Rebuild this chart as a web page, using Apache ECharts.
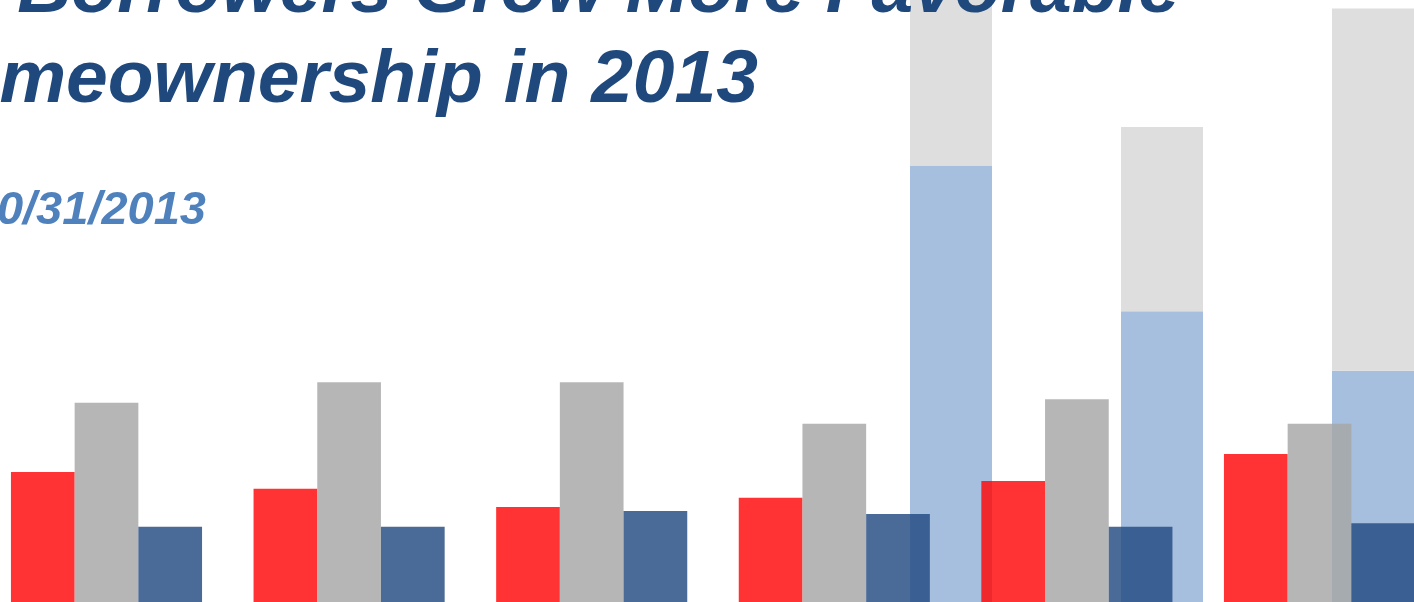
<!DOCTYPE html>
<html>
<head>
<meta charset="utf-8">
<script src="https://cdn.jsdelivr.net/npm/echarts@6/dist/echarts.min.js"></script>
<style>
  html, body { margin: 0; padding: 0; background: #ffffff; }
  #chart { width: 1414px; height: 602px; }
</style>
</head>
<body>
<div id="chart"></div>
<script>
// Grouped bars: six periods, three measures each
const groupCategories = ['P1', 'P2', 'P3', 'P4', 'P5', 'P6'];
const redValues   = [21.6, 18.8, 15.8, 17.3, 20.1, 24.6];
const grayValues  = [33.1, 36.5, 36.5, 29.6, 33.7, 29.6];
const navyValues  = [12.5, 12.5, 15.1, 14.6, 12.5, 13.1];

// Tall stacked bars on a wider category spacing
const stackCategories = ['Q1', 'Q2', 'Q3', 'Q4', 'Q5', 'Q6', 'Q7'];
const stackLower = [null, null, null, null, 72.5, 48.3, 38.4];
const stackUpper = [null, null, null, null, 27.5, 30.6, 60.2];

// Heading lines
const titleLine1 = 'Borrowers Grow More Favorable';
const titleLine2 = 'Homeownership in 2013';
const dateLine = '10/31/2013';

const chart = echarts.init(document.getElementById('chart'), null, { renderer: 'canvas' });

const titleFont = 'italic bold 75px "Liberation Sans", Arial, sans-serif';
const smallOpacity = 0.82;

chart.setOption({
  animation: false,
  backgroundColor: '#ffffff',
  grid: [
    { left: -14.8, width: 1455.6, top: 0, bottom: 0, outerBoundsMode: 'none', containLabel: false },
    { left: 1.5, width: 1477, top: 0, bottom: 0, outerBoundsMode: 'none', containLabel: false }
  ],
  xAxis: [
    { type: 'category', gridIndex: 0, data: groupCategories, show: false },
    { type: 'category', gridIndex: 1, data: stackCategories, show: false }
  ],
  yAxis: [
    { type: 'value', gridIndex: 0, min: 0, max: 100, show: false },
    { type: 'value', gridIndex: 1, min: 0, max: 100, show: false }
  ],
  series: [
    {
      type: 'bar', xAxisIndex: 1, yAxisIndex: 1, stack: 'tall', z: 1,
      barWidth: 82, data: stackLower,
      itemStyle: { color: '#a6bfde' }
    },
    {
      type: 'bar', xAxisIndex: 1, yAxisIndex: 1, stack: 'tall', z: 1,
      barWidth: 82, data: stackUpper,
      itemStyle: { color: '#dedede' }
    },
    {
      type: 'bar', xAxisIndex: 0, yAxisIndex: 0, z: 2,
      barWidth: 63.7, barGap: '0%', data: redValues,
      itemStyle: { color: 'rgb(255,6,6)', opacity: smallOpacity }
    },
    {
      type: 'bar', xAxisIndex: 0, yAxisIndex: 0, z: 2,
      barWidth: 63.7, barGap: '0%', data: grayValues,
      itemStyle: { color: 'rgb(166,166,166)', opacity: smallOpacity }
    },
    {
      type: 'bar', xAxisIndex: 0, yAxisIndex: 0, z: 2,
      barWidth: 63.7, barGap: '0%', data: navyValues,
      itemStyle: { color: 'rgb(34,73,129)', opacity: smallOpacity }
    }
  ],
  graphic: [
    {
      type: 'text', z: 100, x: 1180, y: -9,
      style: { text: titleLine1, font: titleFont, fill: '#1f497d', align: 'right', verticalAlign: 'middle' }
    },
    {
      type: 'text', z: 100, x: 758, y: 81,
      style: { text: titleLine2, font: titleFont, fill: '#1f497d', align: 'right', verticalAlign: 'middle' }
    },
    {
      type: 'text', z: 100, x: 206, y: 211,
      style: { text: dateLine, font: 'italic bold 47px "Liberation Sans", Arial, sans-serif', fill: '#4f81bd', align: 'right', verticalAlign: 'middle' }
    }
  ]
});
</script>
</body>
</html>
